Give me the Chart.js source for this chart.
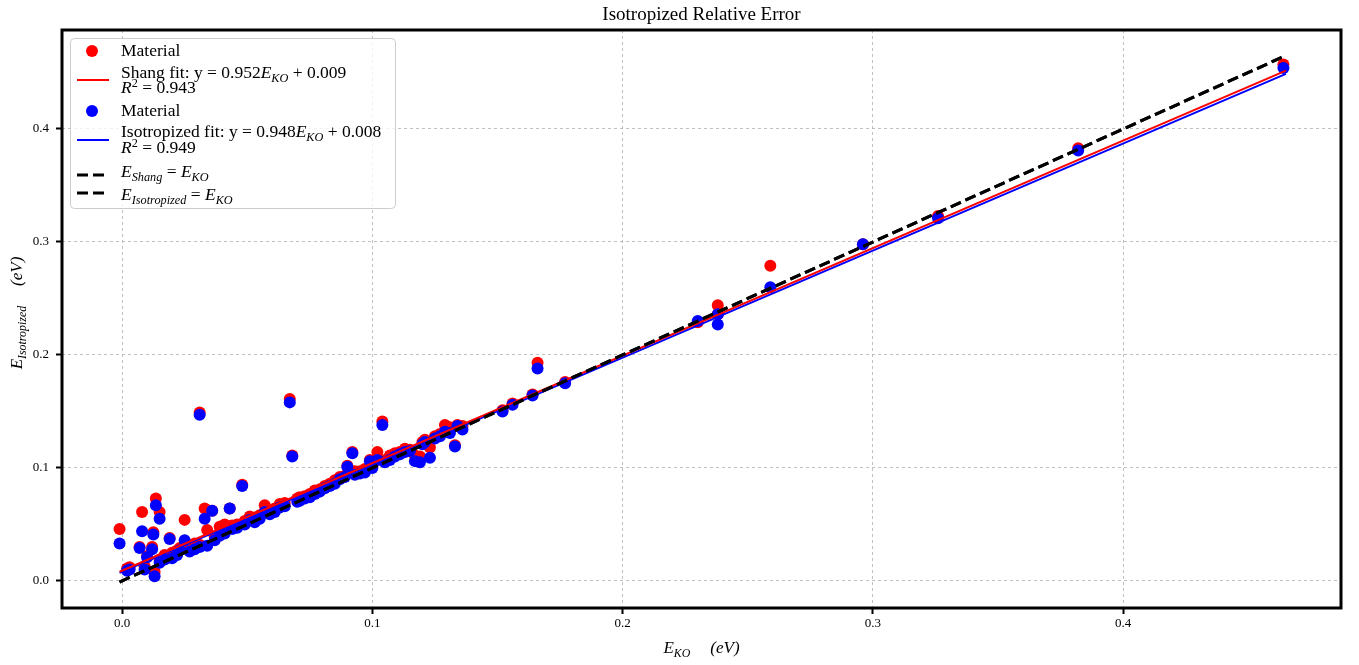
<!DOCTYPE html>
<html>
<head>
<meta charset="utf-8">
<script src="https://cdn.jsdelivr.net/npm/chart.js@4.4.1/dist/chart.umd.min.js"></script>
<style>
  html, body { margin: 0; padding: 0; background: #fff; }
</style>
</head>
<body>
<canvas id="myChart" width="1359" height="665"></canvas>
<script>
// E_KO (x) and the two estimates for each material (y), eV
const eKO = [
  -0.001, 0.002, 0.003, 0.007, 0.008, 0.009, 0.010, 0.012, 0.0125, 0.013,
  0.0135, 0.015, 0.015, 0.017, 0.019, 0.020, 0.022, 0.023, 0.025, 0.027,
  0.029, 0.031, 0.031, 0.033, 0.034, 0.036, 0.037, 0.039, 0.041, 0.043,
  0.044, 0.046, 0.048, 0.049, 0.051, 0.053, 0.055, 0.057, 0.059, 0.061,
  0.063, 0.065, 0.067, 0.068, 0.070, 0.071, 0.073, 0.075, 0.077, 0.079,
  0.081, 0.083, 0.085, 0.087, 0.089, 0.090, 0.092, 0.093, 0.095, 0.097,
  0.099, 0.100, 0.102, 0.104, 0.105, 0.107, 0.109, 0.111, 0.113, 0.115,
  0.117, 0.119, 0.120, 0.121, 0.123, 0.125, 0.127, 0.129, 0.131, 0.133,
  0.134, 0.136, 0.152, 0.156, 0.164, 0.166, 0.177, 0.230, 0.238, 0.238,
  0.259, 0.296, 0.326, 0.382, 0.464
];
const eShang = [
  0.046, 0.011, 0.012, 0.030, 0.061, 0.013, 0.022, 0.030, 0.043, 0.008,
  0.073, 0.061, 0.019, 0.023, 0.038, 0.025, 0.027, 0.029, 0.054, 0.031,
  0.033, 0.149, 0.032, 0.064, 0.045, 0.062, 0.039, 0.048, 0.050, 0.064,
  0.049, 0.050, 0.085, 0.053, 0.057, 0.056, 0.058, 0.067, 0.062, 0.064,
  0.068, 0.069, 0.161, 0.111, 0.073, 0.074, 0.075, 0.077, 0.080, 0.081,
  0.084, 0.086, 0.089, 0.092, 0.093, 0.102, 0.114, 0.097, 0.097, 0.099,
  0.107, 0.102, 0.114, 0.141, 0.107, 0.111, 0.113, 0.114, 0.117, 0.116,
  0.111, 0.110, 0.123, 0.125, 0.118, 0.128, 0.130, 0.138, 0.136, 0.120,
  0.138, 0.137, 0.151, 0.157, 0.165, 0.193, 0.176, 0.229, 0.244, 0.236,
  0.279, 0.298, 0.323, 0.383, 0.457
];
const eIso = [
  0.033, 0.009, 0.010, 0.029, 0.044, 0.010, 0.021, 0.028, 0.041, 0.004,
  0.067, 0.055, 0.016, 0.019, 0.037, 0.020, 0.023, 0.027, 0.036, 0.026,
  0.028, 0.147, 0.030, 0.055, 0.031, 0.062, 0.036, 0.040, 0.042, 0.064,
  0.046, 0.047, 0.084, 0.050, 0.054, 0.052, 0.055, 0.061, 0.059, 0.061,
  0.065, 0.066, 0.158, 0.110, 0.070, 0.071, 0.073, 0.074, 0.077, 0.079,
  0.082, 0.084, 0.086, 0.090, 0.092, 0.101, 0.113, 0.094, 0.095, 0.096,
  0.106, 0.100, 0.107, 0.138, 0.105, 0.107, 0.110, 0.112, 0.114, 0.115,
  0.106, 0.105, 0.121, 0.123, 0.109, 0.126, 0.128, 0.132, 0.131, 0.119,
  0.137, 0.134, 0.150, 0.156, 0.164, 0.188, 0.175, 0.230, 0.236, 0.227,
  0.260, 0.298, 0.321, 0.381, 0.454
];
// linear fits [slope, intercept]
const shangFit = [0.952, 0.009];
const isoFit = [0.948, 0.008];
const xTicks = [0, 0.1, 0.2, 0.3, 0.4];
const yTicks = [0, 0.1, 0.2, 0.3, 0.4];

const xMin = Math.min(...eKO);
const xMax = Math.max(...eKO) + 0.001;
const fitLine = (f) => [
  { x: xMin, y: f[0] * xMin + f[1] },
  { x: xMax, y: f[0] * xMax + f[1] },
];
const identity = [{ x: xMin, y: xMin }, { x: xMax, y: xMax }];

const FONT = '"Liberation Serif", "DejaVu Serif", serif';

// tiny rich text helper for sub/superscripts
function segFont(s, size) {
  const sz = s.b ? size * 0.7 : size;
  return (s.i ? "italic " : "") + sz + "px " + FONT;
}
function richWidth(ctx, segs, size) {
  let w = 0;
  segs.forEach((s) => {
    if (s.gap) { w += s.gap; return; }
    ctx.font = segFont(s, size);
    w += ctx.measureText(s.t).width;
  });
  return w;
}
function drawRich(ctx, segs, x, y, size) {
  let cx = x;
  ctx.textBaseline = "alphabetic";
  ctx.textAlign = "left";
  segs.forEach((s) => {
    if (s.gap) { cx += s.gap; return; }
    ctx.font = segFont(s, size);
    const dy = s.b === "sub" ? size * 0.22 : s.b === "sup" ? -size * 0.38 : 0;
    ctx.fillText(s.t, cx, y + dy);
    cx += ctx.measureText(s.t).width;
  });
}

const legendRows = [
  { kind: "dot", color: "red", hy: 51, lines: [[{ t: "Material" }]], by: [55.7] },
  { kind: "line", color: "red", hy: 80, lines: [
      [{ t: "Shang fit: y = 0.952" }, { t: "E", i: 1 }, { t: "KO", i: 1, b: "sub" }, { t: " + 0.009" }],
      [{ t: "R", i: 1 }, { t: "2", b: "sup" }, { t: " = 0.943" }]
    ], by: [77.7, 93.3] },
  { kind: "dot", color: "blue", hy: 111, lines: [[{ t: "Material" }]], by: [115.7] },
  { kind: "line", color: "blue", hy: 140, lines: [
      [{ t: "Isotropized fit: y = 0.948" }, { t: "E", i: 1 }, { t: "KO", i: 1, b: "sub" }, { t: " + 0.008" }],
      [{ t: "R", i: 1 }, { t: "2", b: "sup" }, { t: " = 0.949" }]
    ], by: [136.7, 153.3] },
  { kind: "dash", color: "black", hy: 175, lines: [
      [{ t: "E", i: 1 }, { t: "Shang", i: 1, b: "sub" }, { t: " = " }, { t: "E", i: 1 }, { t: "KO", i: 1, b: "sub" }]
    ], by: [176.7] },
  { kind: "dash", color: "black", hy: 193, lines: [
      [{ t: "E", i: 1 }, { t: "Isotropized", i: 1, b: "sub" }, { t: " = " }, { t: "E", i: 1 }, { t: "KO", i: 1, b: "sub" }]
    ], by: [200] },
];

const decorations = {
  id: "decorations",
  afterDraw(chart) {
    const { ctx, chartArea: a } = chart;
    ctx.save();
    // frame
    ctx.strokeStyle = "#000";
    ctx.lineWidth = 3;
    ctx.strokeRect(a.left, a.top, a.right - a.left, a.bottom - a.top);

    // title
    ctx.fillStyle = "#000";
    ctx.font = "19px " + FONT;
    ctx.textAlign = "center";
    ctx.textBaseline = "alphabetic";
    ctx.fillText("Isotropized Relative Error", (a.left + a.right) / 2, 20);

    // x title
    const xt = [{ t: "E", i: 1 }, { t: "KO", i: 1, b: "sub" }, { gap: 20 }, { t: "(eV)", i: 1 }];
    const xw = richWidth(ctx, xt, 17);
    drawRich(ctx, xt, (a.left + a.right) / 2 - xw / 2, 653, 17);

    // y title
    const yt = [{ t: "E", i: 1 }, { t: "Isotropized", i: 1, b: "sub" }, { gap: 20 }, { t: "(eV)", i: 1 }];
    const yw = richWidth(ctx, yt, 17);
    ctx.save();
    ctx.translate(22, 313);
    ctx.rotate(-Math.PI / 2);
    drawRich(ctx, yt, -yw / 2, 0, 17);
    ctx.restore();

    // legend box
    ctx.beginPath();
    ctx.roundRect(70.5, 38.5, 325, 170, 4);
    ctx.fillStyle = "rgba(255,255,255,0.8)";
    ctx.fill();
    ctx.strokeStyle = "#cccccc";
    ctx.lineWidth = 1;
    ctx.stroke();

    legendRows.forEach((r) => {
      ctx.fillStyle = r.color;
      ctx.strokeStyle = r.color;
      if (r.kind === "dot") {
        ctx.beginPath();
        ctx.arc(92, r.hy, 6, 0, Math.PI * 2);
        ctx.fill();
      } else {
        ctx.beginPath();
        ctx.lineWidth = r.kind === "dash" ? 3 : 2;
        ctx.setLineDash(r.kind === "dash" ? [11, 5] : []);
        ctx.moveTo(77, r.hy);
        ctx.lineTo(109, r.hy);
        ctx.stroke();
        ctx.setLineDash([]);
      }
      ctx.fillStyle = "#000";
      r.lines.forEach((ln, k) => drawRich(ctx, ln, 121, r.by[k], 17.5));
    });
    ctx.restore();
  },
};

const ctx = document.getElementById("myChart").getContext("2d");

const chart = new Chart(ctx, {
  type: "scatter",
  data: {
    datasets: [
      {
        label: "Material",
        data: eKO.map((x, i) => ({ x: x, y: eShang[i] })),
        backgroundColor: "red",
        borderWidth: 0,
        pointRadius: 6,
        order: 4,
      },
      {
        label: "Material",
        data: eKO.map((x, i) => ({ x: x, y: eIso[i] })),
        backgroundColor: "blue",
        borderWidth: 0,
        pointRadius: 6,
        order: 3,
      },
      {
        type: "line",
        label: "Shang fit",
        data: fitLine(shangFit),
        borderColor: "red",
        borderWidth: 2,
        pointRadius: 0,
        order: 1,
      },
      {
        type: "line",
        label: "Isotropized fit",
        data: fitLine(isoFit),
        borderColor: "blue",
        borderWidth: 2,
        pointRadius: 0,
        order: 2,
      },
      {
        type: "line",
        label: "E_Shang = E_KO",
        data: identity,
        borderColor: "black",
        borderWidth: 3,
        borderDash: [11, 5],
        pointRadius: 0,
        order: 0,
      },
      {
        type: "line",
        label: "E_Isotropized = E_KO",
        data: identity,
        borderColor: "black",
        borderWidth: 3,
        borderDash: [11, 5],
        pointRadius: 0,
        order: 0,
      },
    ],
  },
  options: {
    responsive: false,
    animation: false,
    layout: { padding: { top: 30, right: 18, left: 0, bottom: 0 } },
    plugins: {
      legend: { display: false },
      title: { display: false },
      tooltip: { enabled: false },
    },
    scales: {
      x: {
        type: "linear",
        min: -0.024,
        max: 0.487,
        afterBuildTicks: (s) => { s.ticks = xTicks.map((v) => ({ value: v })); },
        afterFit: (s) => { s.height = 57; },
        ticks: {
          color: "#000",
          font: { family: FONT, size: 13 },
          padding: 2,
          maxRotation: 0,
          autoSkip: false,
          callback: (v) => v.toFixed(1),
        },
        grid: {
          color: "#b0b0b0",
          lineWidth: 0.8,
          tickColor: "#000",
          tickWidth: 2,
          tickLength: 6,
        },
        border: { display: false, dash: [3, 3] },
      },
      y: {
        type: "linear",
        min: -0.024,
        max: 0.4876,
        afterBuildTicks: (s) => { s.ticks = yTicks.map((v) => ({ value: v })); },
        afterFit: (s) => { s.width = 62; },
        ticks: {
          color: "#000",
          font: { family: FONT, size: 13 },
          padding: 7,
          autoSkip: false,
          callback: (v) => v.toFixed(1),
        },
        grid: {
          color: "#b0b0b0",
          lineWidth: 0.8,
          tickColor: "#000",
          tickWidth: 2,
          tickLength: 6,
        },
        border: { display: false, dash: [3, 3] },
      },
    },
  },
  plugins: [decorations],
});
</script>
</body>
</html>
